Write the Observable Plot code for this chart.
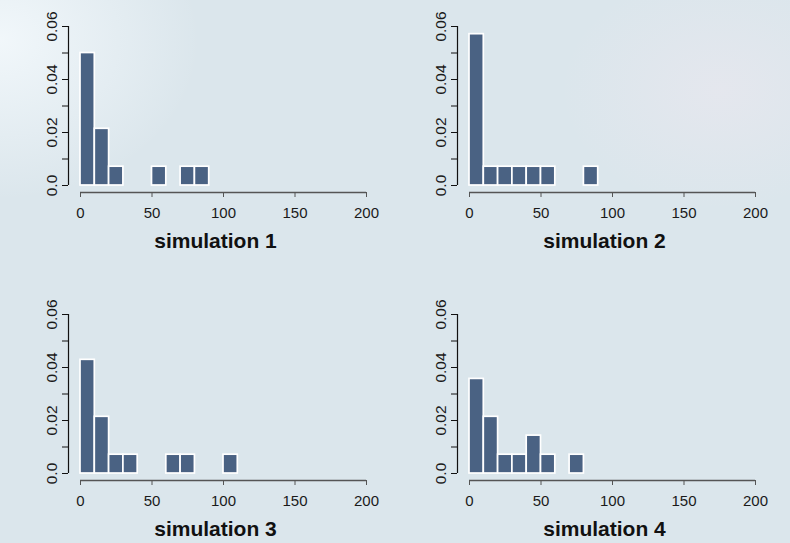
<!DOCTYPE html>
<html>
<head>
<meta charset="utf-8">
<script src="https://cdn.jsdelivr.net/npm/d3@7"></script>
<script src="https://cdn.jsdelivr.net/npm/@observablehq/plot@0.6"></script>
<style>
  html, body { margin: 0; padding: 0; }
  #page {
    position: relative; width: 790px; height: 543px; overflow: hidden;
    background:
      radial-gradient(ellipse 200px 160px at 0px 40px, rgba(245,250,253,0.85), rgba(245,250,253,0) 100%),
      radial-gradient(ellipse 160px 120px at 720px 90px, rgba(240,232,240,0.45), rgba(240,232,240,0) 100%),
      #dbe6ec;
    font-family: "Liberation Sans", Arial, sans-serif;
  }
  .panel { position: absolute; }
</style>
</head>
<body>
<div id="page"></div>
<script>
// bin edges (width 10) and densities per bin
const binEdges = [0, 10, 20, 30, 40, 50, 60, 70, 80, 90, 100, 110];
const sim1 = [0.05, 0.0214, 0.0071, 0, 0, 0.0071, 0, 0.0071, 0.0071];
const sim2 = [0.0571, 0.0071, 0.0071, 0.0071, 0.0071, 0.0071, 0, 0, 0.0071];
const sim3 = [0.0429, 0.0214, 0.0071, 0.0071, 0, 0, 0.0071, 0.0071, 0, 0, 0.0071];
const sim4 = [0.0357, 0.0214, 0.0071, 0.0071, 0.0143, 0.0071, 0, 0.0071];
const titles = ["simulation 1", "simulation 2", "simulation 3", "simulation 4"];
const xTicks = [0, 50, 100, 150, 200];
const yTicks = [0, 0.01, 0.02, 0.03, 0.04, 0.05, 0.06];
const yLabelValues = [0, 0.02, 0.04, 0.06];
const yLabels = ["0.0", "0.02", "0.04", "0.06"];

const page = document.getElementById("page");
const positions = [[0, 0], [389, 0], [0, 288], [389, 288]];
const sims = [sim1, sim2, sim3, sim4];

sims.forEach((values, k) => {
  const data = values
    .map((d, i) => ({x1: binEdges[i], x2: binEdges[i + 1], y: d}))
    .filter(d => d.y > 0);
  const labelData = yLabelValues.map((v, i) => ({v, t: yLabels[i]}));
  const plot = Plot.plot({
    width: 400, height: 272,
    marginLeft: 68, marginRight: 34, marginTop: 26, marginBottom: 80,
    x: {domain: [0, 200], insetLeft: 12, axis: null},
    y: {domain: [0, 0.06], insetBottom: 7, axis: null},
    style: {background: "transparent", fontFamily: "'Liberation Sans', Arial, sans-serif", overflow: "visible"},
    marks: [
      Plot.rectY(data, {x1: "x1", x2: "x2", y: "y", fill: "#4a6283", stroke: "white", strokeWidth: 1.7}),
      // x axis line from 0 to 200 just below the plot
      Plot.ruleY([0], {x1: 0, x2: 200, dy: 7, stroke: "#555", strokeWidth: 1.3}),
      Plot.axisX({ticks: xTicks, tickFormat: d => String(d), tickSize: 5, tickPadding: 10,
                  fontSize: 15, label: null, stroke: "#555", fill: "#1a1a1a"}),
      // y axis line from 0 to 0.06
      Plot.ruleX([0], {y1: 0, y2: 0.06, dx: -12, stroke: "#111", strokeWidth: 1.2}),
      Plot.axisY({ticks: yTicks, tickFormat: () => "", tickSize: 6, label: null, stroke: "#111"}),
      Plot.text(labelData, {y: "v", text: "t", frameAnchor: "left", rotate: -90, dx: -12,
                            textAnchor: "middle", lineAnchor: "bottom", fontSize: 15.5, fill: "#1a1a1a"}),
      Plot.text([titles[k]], {x: () => 100, frameAnchor: "bottom", dy: 55, dx: -8,
                              fontSize: 21, fontWeight: "bold", fill: "#111"})
    ]
  });
  const div = document.createElement("div");
  div.className = "panel";
  div.style.left = positions[k][0] + "px";
  div.style.top = positions[k][1] + "px";
  div.appendChild(plot);
  page.appendChild(div);
});
</script>
</body>
</html>
